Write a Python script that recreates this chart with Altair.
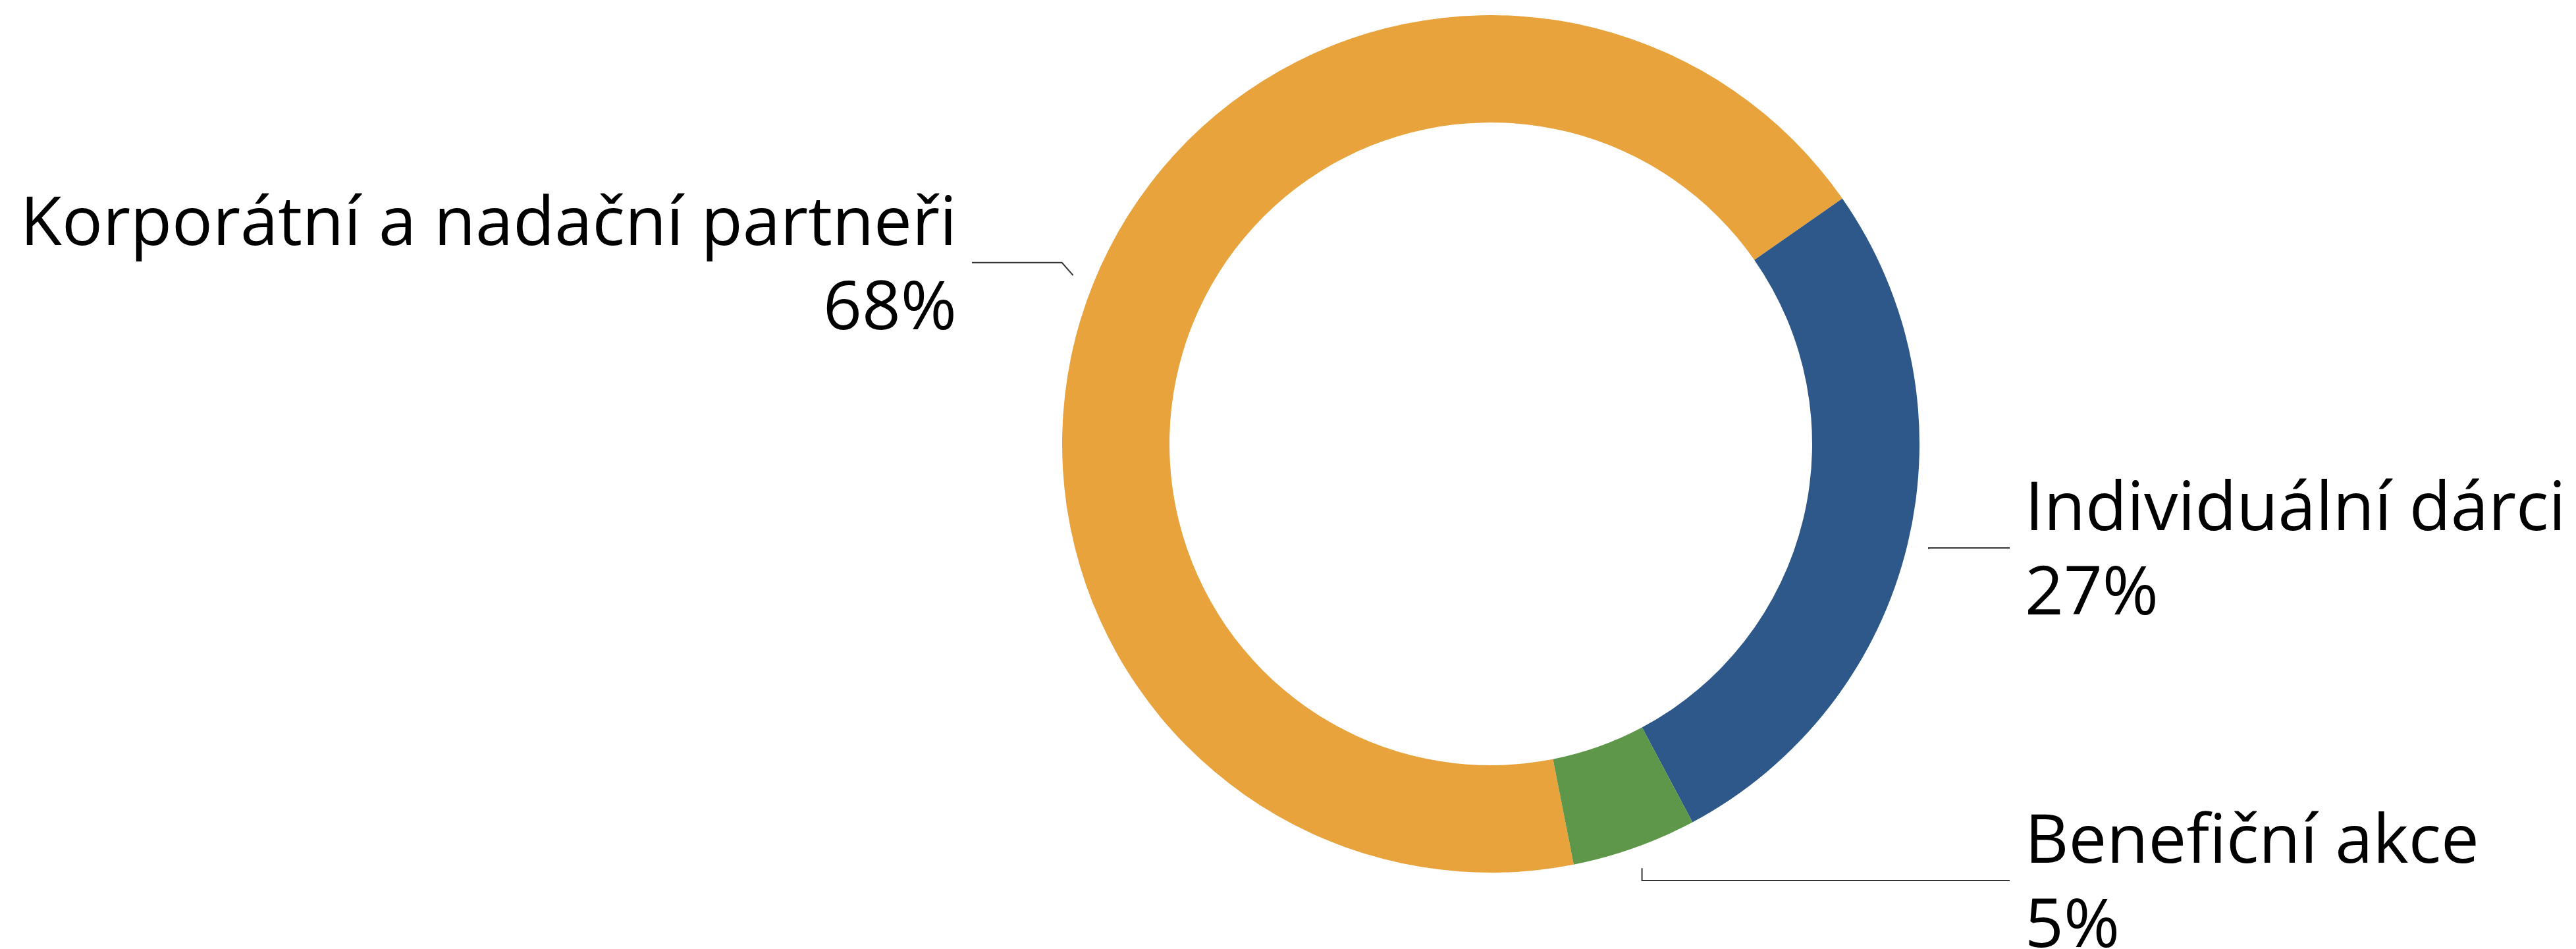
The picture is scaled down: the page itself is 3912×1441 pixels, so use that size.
import math
import altair as alt
import pandas as pd

# ---- data ----
categories = ["Korporátní a nadační partneři", "Individuální dárci", "Benefiční akce"]
shares = [68.4, 26.9, 4.7]
share_labels = ["68%", "27%", "5%"]
colors = ["#E8A33D", "#2E5889", "#5E974A"]

# ---- layout (pixels inside the plot area) ----
W, H = 3896, 1425
CX, CY = 2256, 666          # donut centre
R_OUT, R_IN = 651, 488      # outer / inner radius
START_DEG = 168.85          # where the first slice starts (clockwise from 12 o'clock)
R_CONN = 684                # connector starts here
R_LABEL = 706               # radius used to place label rows
LABEL_DX = 811              # horizontal distance of label edge from centre
LABEL_NUDGE = [-11, -7, -2] # vertical tweak of label rows
ELBOW_DX = [17, 0, 0]       # horizontal travel of the connector's first segment
GAP = 23                    # gap between connector end and text
BASE1, BASE2 = -27, 101     # baselines of the two text lines relative to connector
FONT = "Open Sans"
FONT_SIZE = 103

total = sum(shares)
arc_rows, text_rows, conn_rows = [], [], []
cum = START_DEG
for i, (cat, s, lab) in enumerate(zip(categories, shares, share_labels)):
    span = s / total * 360.0
    mid = math.radians(cum + span / 2.0)
    cum += span
    side = 1 if math.sin(mid) > 0 else -1
    sx = CX + R_CONN * math.sin(mid)
    sy = CY - R_CONN * math.cos(mid)
    ly = CY - R_LABEL * math.cos(mid) + LABEL_NUDGE[i]
    ex = sx + side * ELBOW_DX[i]
    endx = CX + side * (LABEL_DX - GAP)
    lx = CX + side * LABEL_DX
    arc_rows.append({"category": cat, "value": s, "idx": i})
    conn_rows += [
        {"category": cat, "ord": 0, "x": sx, "y": sy},
        {"category": cat, "ord": 1, "x": ex, "y": ly},
        {"category": cat, "ord": 2, "x": endx, "y": ly},
    ]
    text_rows += [
        {"side": side, "txt": cat, "x": lx, "y": ly + BASE1},
        {"side": side, "txt": lab, "x": lx, "y": ly + BASE2},
    ]

arc_df = pd.DataFrame(arc_rows)
conn_df = pd.DataFrame(conn_rows)
text_df = pd.DataFrame(text_rows)

xs = alt.Scale(domain=[0, W], range=[0, W], nice=False, zero=False)
ys = alt.Scale(domain=[0, H], range=[0, H], nice=False, zero=False)

start_rad = math.radians(START_DEG)
donut = alt.Chart(arc_df).mark_arc(
    outerRadius=R_OUT, innerRadius=R_IN, x=CX, y=CY
).encode(
    theta=alt.Theta("value:Q", stack=True,
                    scale=alt.Scale(range=[start_rad, start_rad + 2 * math.pi])),
    color=alt.Color("category:N", scale=alt.Scale(domain=categories, range=colors), legend=None),
    order=alt.Order("idx:Q", sort="ascending"),
)

connectors = alt.Chart(conn_df).mark_line(color="#333333", strokeWidth=2).encode(
    x=alt.X("x:Q", scale=xs, axis=None),
    y=alt.Y("y:Q", scale=ys, axis=None),
    detail="category:N",
    order="ord:Q",
)

def text_layer(side, align):
    return alt.Chart(text_df[text_df["side"] == side]).mark_text(
        align=align, baseline="alphabetic", font=FONT, fontSize=FONT_SIZE, color="#000000"
    ).encode(
        x=alt.X("x:Q", scale=xs, axis=None),
        y=alt.Y("y:Q", scale=ys, axis=None),
        text="txt:N",
    )

chart = alt.layer(
    donut, connectors, text_layer(-1, "right"), text_layer(1, "left")
).properties(
    width=W, height=H, padding=0, background="white"
).configure_view(stroke=None)

chart.save("out.html", embed_options={"renderer": "svg", "actions": False})
